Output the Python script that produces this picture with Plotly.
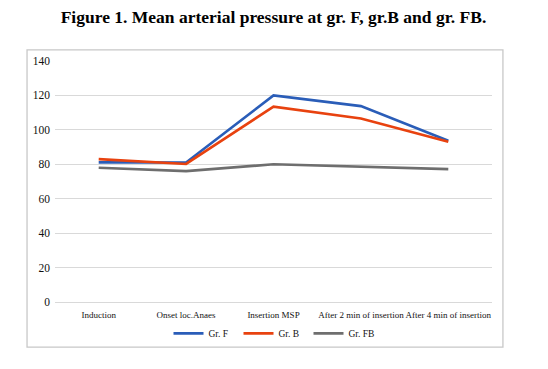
import plotly.graph_objects as go

categories = ["Induction", "Onset loc.Anaes", "Insertion MSP",
              "After 2 min of insertion", "After 4 min of insertion"]
gr_f = [81.1, 81.0, 120.0, 113.8, 93.7]
gr_b = [83.0, 80.2, 113.5, 106.6, 93.1]
gr_fb = [78.0, 76.0, 80.0, 78.7, 77.2]
y_ticks = [0, 20, 40, 60, 80, 100, 120, 140]

series = [("Gr. F", gr_f, "#2A5DB8"),
          ("Gr. B", gr_b, "#E8420F"),
          ("Gr. FB", gr_fb, "#6E6E6E")]

fig = go.Figure()
for name, vals, color in series:
    fig.add_trace(go.Scatter(x=categories, y=vals, name=name, mode="lines",
                             line=dict(color=color, width=2.6)))

serif = "Liberation Serif"
fig.update_layout(
    width=540, height=361,
    margin=dict(l=47, r=56, t=53, b=67, autoexpand=False),
    paper_bgcolor="white", plot_bgcolor="white",
    font=dict(family=serif, color="#111111"),
    title=dict(text="<b>Figure 1. Mean arterial pressure at gr. F, gr.B and gr. FB.</b>",
               x=0.5, xanchor="center", xref="paper", yref="container",
               y=0.975, yanchor="middle",
               font=dict(family=serif, size=17.5, color="#000000")),
    showlegend=True,
    legend=dict(orientation="h", x=0.5, xanchor="center", y=-0.13, yanchor="middle",
                font=dict(family=serif, size=9.5, color="#111111"),
                entrywidth=25, entrywidthmode="pixels",
                tracegroupgap=0, bgcolor="rgba(0,0,0,0)"),
    xaxis=dict(showgrid=False, showline=False, ticks="", tickangle=0,
               automargin=False, ticklabelstandoff=6,
               tickfont=dict(family=serif, size=9, color="#111111"),
               range=[-0.5, 4.5]),
    yaxis=dict(range=[0, 140], tickvals=y_ticks, showgrid=True, automargin=False,
               gridcolor="#D9D9D9", gridwidth=1.3, zeroline=True,
               zerolinecolor="#D9D9D9", zerolinewidth=1.3, showline=False,
               ticks="", ticklabelstandoff=4,
               tickfont=dict(family=serif, size=11.5, color="#111111")),
    shapes=[dict(type="rect", xref="paper", yref="paper",
                 x0=-0.064, x1=1.025, y0=-0.187, y1=1.046,
                 line=dict(color="#C8C8C8", width=1.3), layer="below")],
)

fig.write_html("out.html")
